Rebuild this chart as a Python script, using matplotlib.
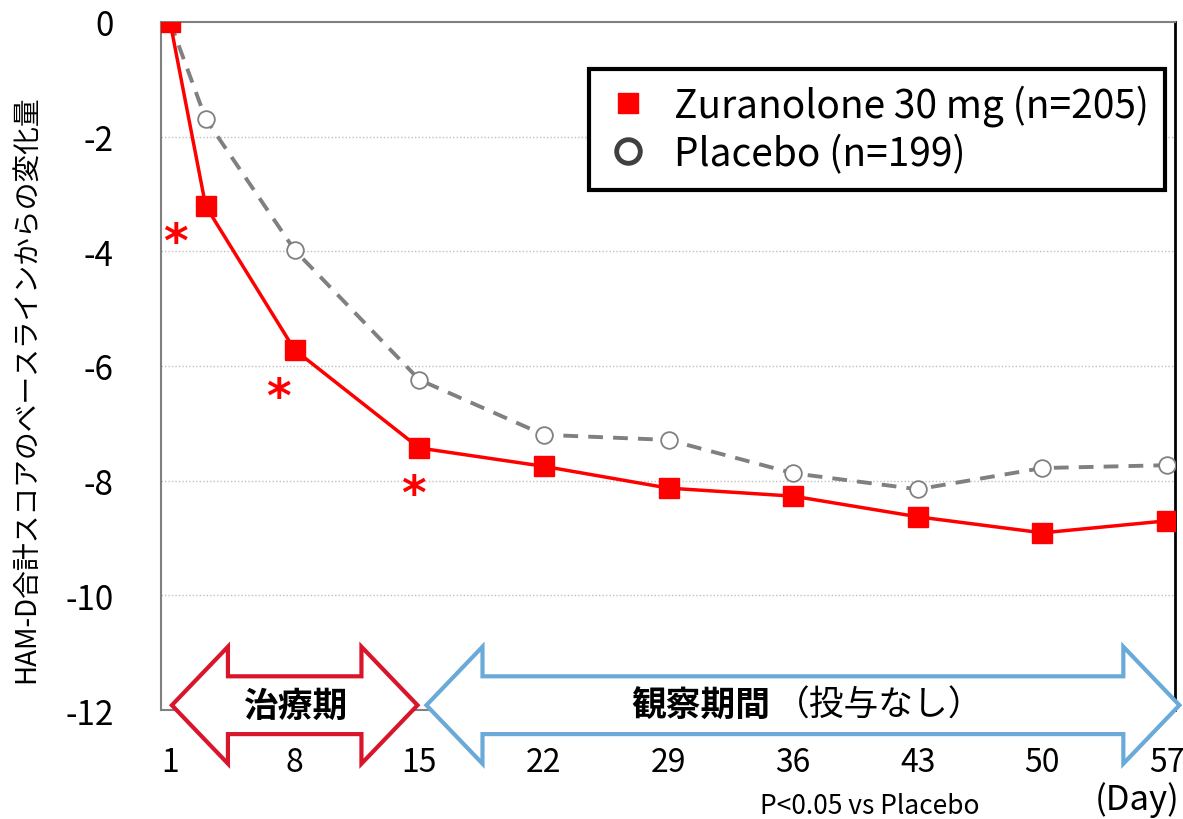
import matplotlib
matplotlib.use("Agg")
import matplotlib.pyplot as plt
from matplotlib.lines import Line2D
from matplotlib.patches import Polygon
from matplotlib.transforms import blended_transform_factory

plt.rcParams['font.family'] = ['Noto Sans CJK JP', 'DejaVu Sans']

# データ（HAM-D合計スコアのベースラインからの変化量）
days = [1, 3, 8, 15, 22, 29, 36, 43, 50, 57]
zuranolone = [0, -3.21, -5.72, -7.43, -7.75, -8.13, -8.27, -8.63, -8.91, -8.70]
placebo = [0, -1.69, -3.98, -6.24, -7.20, -7.29, -7.87, -8.15, -7.78, -7.73]
tick_days = [1, 8, 15, 22, 29, 36, 43, 50, 57]
y_ticks = [0, -2, -4, -6, -8, -10, -12]
significant_days = [3, 8, 15]
treatment_period = (1, 15)
followup_period = (15, 57)

label_zura = "Zuranolone 30 mg (n=205)"
label_plac = "Placebo (n=199)"

fig = plt.figure(figsize=(11.83, 8.2), dpi=100)
ax = fig.add_axes([0.1361, 0.1329, 0.8571, 0.8391])

ax.plot(days, placebo, color='#808080', linestyle=(0, (3.8, 2.6)), linewidth=2.8,
        marker='o', markersize=12, markerfacecolor='white',
        markeredgecolor='#808080', markeredgewidth=1.3, zorder=3)
ax.plot(days, zuranolone, color='red', linewidth=2.5,
        marker='s', markersize=14, markerfacecolor='red',
        markeredgecolor='red', zorder=4)

# 有意差の * 印
offsets = {3: (-22, -27), 8: (-12, -35), 15: (-4, -34)}
for d in significant_days:
    v = zuranolone[days.index(d)]
    ax.annotate('*', xy=(d, v), xytext=offsets[d], textcoords='offset points',
                ha='center', va='center', color='red', fontsize=34,
                fontweight='bold', family='DejaVu Sans', zorder=5)

ax.set_xlim(0.49, 57.45)
ax.set_ylim(-12, 0)
ax.set_xticks(tick_days)
ax.set_xticklabels([str(d) for d in tick_days])
ax.set_yticks(y_ticks)
ax.set_yticklabels([str(v) for v in y_ticks])
ax.tick_params(axis='both', length=0, labelsize=24)
ax.tick_params(axis='x', pad=26, labelsize=23)
ax.tick_params(axis='y', pad=34)

for v in y_ticks[1:-1]:
    ax.axhline(v, color='#BFBFBF', linestyle=(0, (1, 1.5)), linewidth=1, zorder=0)

for side in ['left', 'top', 'bottom']:
    ax.spines[side].set_color('#808080')
    ax.spines[side].set_linewidth(1.5)
ax.spines['right'].set_color('black')
ax.spines['right'].set_linewidth(2)

ax.set_ylabel("HAM-D合計スコアのベースラインからの変化量", fontsize=20)
ax.yaxis.set_label_coords(-0.118, 0.468)

# 期間を示す両矢印
trans = blended_transform_factory(ax.transData, ax.transAxes)


def double_arrow(x0, x1, color, head=3.15):
    tip_y, shaft_hi, shaft_lo, head_hi, head_lo = 0.007, 0.049, -0.035, 0.092, -0.078
    pts = [(x0, tip_y), (x0 + head, head_hi), (x0 + head, shaft_hi),
           (x1 - head, shaft_hi), (x1 - head, head_hi), (x1, tip_y),
           (x1 - head, head_lo), (x1 - head, shaft_lo), (x0 + head, shaft_lo),
           (x0 + head, head_lo)]
    poly = Polygon(pts, closed=True, facecolor='white', edgecolor=color,
                   linewidth=3, transform=trans, clip_on=False, zorder=6)
    ax.add_patch(poly)


double_arrow(treatment_period[0] + 0.1, treatment_period[1] - 0.1, '#D9152B')
double_arrow(followup_period[0] + 0.4, followup_period[1] + 0.7, '#6AAAD9')

ax.text(sum(treatment_period) / 2, 0.007, "治療期", transform=trans, ha='center',
        va='center', fontsize=25, fontweight='bold', zorder=7)
ax.text(34.7, 0.007, "観察期間", transform=trans, ha='right',
        va='center', fontsize=25, fontweight='bold', zorder=7)
ax.text(35.0, 0.007, "（投与なし）", transform=trans, ha='left',
        va='center', fontsize=25, zorder=7)

fig.text(0.9975, 0.024, "(Day)", ha='right', va='center', fontsize=25)
fig.text(0.735, 0.017, "P<0.05 vs Placebo", ha='center', va='center', fontsize=19)

handles = [
    Line2D([], [], linestyle='none', marker='s', markersize=15,
           markerfacecolor='red', markeredgecolor='red'),
    Line2D([], [], linestyle='none', marker='o', markersize=17,
           markerfacecolor='white', markeredgecolor='#404040', markeredgewidth=3.5),
]
leg = ax.legend(handles, [label_zura, label_plac], loc='upper right',
                bbox_to_anchor=(0.990, 0.932), borderaxespad=0, fontsize=28,
                frameon=True, fancybox=False, framealpha=1, handletextpad=0.6,
                borderpad=0.4, labelspacing=0.2, handlelength=1.2)
leg.get_frame().set_edgecolor('black')
leg.get_frame().set_linewidth(3)
leg.set_zorder(8)

fig.savefig("out.png", dpi=100)
